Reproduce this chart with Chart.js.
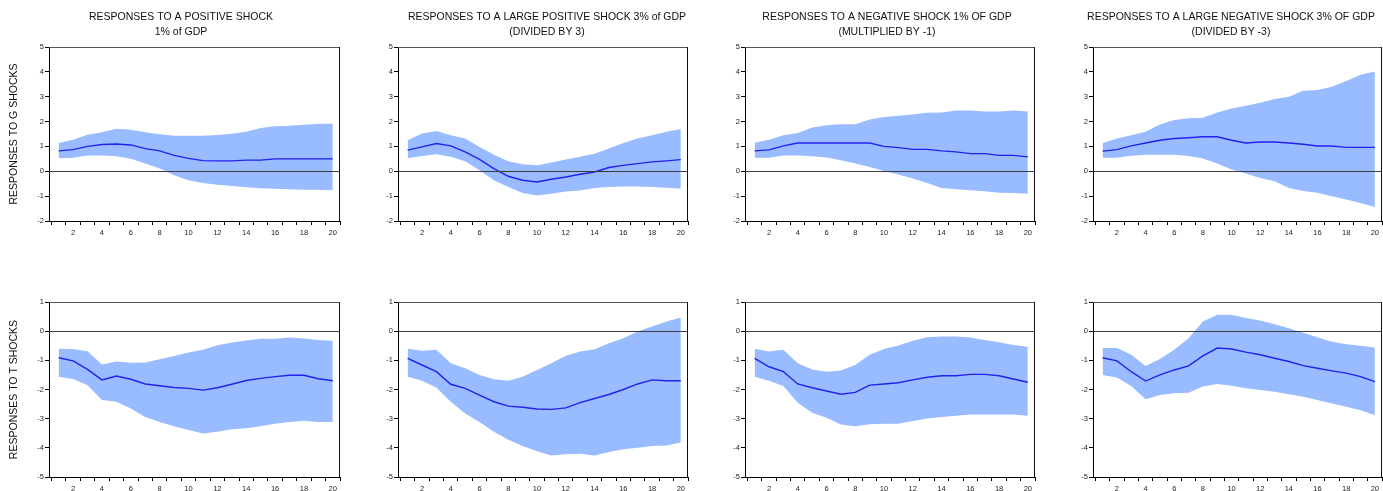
<!DOCTYPE html>
<html>
<head>
<meta charset="utf-8">
<script src="https://cdn.jsdelivr.net/npm/chart.js@4"></script>
<style>
  body { margin: 0; background: #fff; }
  #wrap { position: relative; width: 1383px; height: 491px; overflow: hidden; }
  #wrap canvas { position: absolute; }
</style>
</head>
<body>
<div id="wrap"></div>
<script>
const periods = [1, 2, 3, 4, 5, 6, 7, 8, 9, 10, 11, 12, 13, 14, 15, 16, 17, 18, 19, 20];
const xTickLabels = [2, 4, 6, 8, 10, 12, 14, 16, 18, 20];
const xTickMarks = [0.5, 1.5, 2.5, 3.5, 4.5, 5.5, 6.5, 7.5, 8.5, 9.5, 10.5, 11.5, 12.5, 13.5, 14.5, 15.5, 16.5, 17.5, 18.5, 19.5, 20.5];
const yTicksG = [-2, -1, 0, 1, 2, 3, 4, 5];
const yTicksT = [-5, -4, -3, -2, -1, 0, 1];

const colTitles = [
  ['RESPONSES TO A POSITIVE SHOCK', '1% of GDP'],
  ['RESPONSES TO A LARGE POSITIVE SHOCK 3% of GDP', '(DIVIDED BY 3)'],
  ['RESPONSES TO A NEGATIVE SHOCK 1% OF GDP', '(MULTIPLIED BY -1)'],
  ['RESPONSES TO A LARGE NEGATIVE SHOCK 3% OF GDP', '(DIVIDED BY -3)']
];
const rowTitles = ['RESPONSES TO G SHOCKS', 'RESPONSES TO T SHOCKS'];

// responses to G shocks
const gPosMid = [0.82, 0.87, 1.0, 1.08, 1.1, 1.06, 0.91, 0.82, 0.64, 0.52, 0.43, 0.42, 0.42, 0.45, 0.45, 0.5, 0.5, 0.5, 0.5, 0.5];
const gPosHi = [1.14, 1.27, 1.47, 1.57, 1.71, 1.67, 1.57, 1.49, 1.43, 1.43, 1.43, 1.46, 1.51, 1.59, 1.74, 1.81, 1.83, 1.87, 1.91, 1.91];
const gPosLo = [0.52, 0.54, 0.64, 0.64, 0.6, 0.5, 0.31, 0.11, -0.16, -0.36, -0.47, -0.54, -0.59, -0.64, -0.68, -0.7, -0.72, -0.74, -0.74, -0.76];

const gBigPosMid = [0.85, 0.98, 1.12, 1.02, 0.78, 0.48, 0.11, -0.2, -0.36, -0.43, -0.32, -0.23, -0.12, -0.03, 0.15, 0.24, 0.31, 0.38, 0.42, 0.47];
const gBigPosHi = [1.25, 1.52, 1.62, 1.45, 1.32, 0.98, 0.67, 0.4, 0.28, 0.24, 0.35, 0.47, 0.58, 0.71, 0.92, 1.14, 1.32, 1.45, 1.59, 1.7];
const gBigPosLo = [0.52, 0.61, 0.69, 0.58, 0.4, 0.04, -0.36, -0.63, -0.87, -0.97, -0.9, -0.81, -0.77, -0.67, -0.63, -0.61, -0.61, -0.63, -0.66, -0.7];

const gNegMid = [0.82, 0.86, 1.02, 1.14, 1.14, 1.14, 1.14, 1.14, 1.14, 1.0, 0.95, 0.88, 0.88, 0.82, 0.78, 0.71, 0.71, 0.64, 0.64, 0.58];
const gNegHi = [1.15, 1.27, 1.45, 1.54, 1.76, 1.85, 1.89, 1.89, 2.08, 2.18, 2.23, 2.28, 2.35, 2.36, 2.45, 2.45, 2.41, 2.41, 2.45, 2.41];
const gNegLo = [0.54, 0.54, 0.64, 0.64, 0.6, 0.55, 0.44, 0.31, 0.17, 0.01, -0.13, -0.29, -0.47, -0.67, -0.72, -0.76, -0.8, -0.86, -0.87, -0.9];

const gBigNegMid = [0.81, 0.87, 1.02, 1.14, 1.25, 1.32, 1.35, 1.39, 1.39, 1.25, 1.14, 1.18, 1.18, 1.14, 1.09, 1.02, 1.02, 0.96, 0.96, 0.96];
const gBigNegHi = [1.14, 1.32, 1.45, 1.59, 1.88, 2.06, 2.13, 2.15, 2.36, 2.53, 2.64, 2.76, 2.91, 3.0, 3.24, 3.27, 3.4, 3.63, 3.88, 4.01];
const gBigNegLo = [0.54, 0.54, 0.63, 0.67, 0.67, 0.67, 0.61, 0.51, 0.31, 0.07, -0.09, -0.27, -0.4, -0.67, -0.79, -0.86, -1.0, -1.14, -1.28, -1.44];

// responses to T shocks
const tPosMid = [-0.91, -1.02, -1.31, -1.67, -1.54, -1.65, -1.81, -1.87, -1.93, -1.96, -2.02, -1.94, -1.82, -1.69, -1.62, -1.56, -1.51, -1.51, -1.63, -1.7];
const tPosHi = [-0.6, -0.61, -0.69, -1.14, -1.04, -1.08, -1.07, -0.96, -0.85, -0.73, -0.64, -0.48, -0.39, -0.32, -0.26, -0.26, -0.22, -0.25, -0.3, -0.33];
const tPosLo = [-1.56, -1.64, -1.85, -2.36, -2.42, -2.65, -2.94, -3.11, -3.26, -3.39, -3.51, -3.45, -3.36, -3.33, -3.26, -3.17, -3.11, -3.07, -3.11, -3.11];

const tBigPosMid = [-0.93, -1.16, -1.39, -1.82, -1.96, -2.19, -2.42, -2.57, -2.61, -2.67, -2.68, -2.63, -2.45, -2.31, -2.17, -2.0, -1.81, -1.67, -1.7, -1.7];
const tBigPosHi = [-0.6, -0.67, -0.64, -1.1, -1.27, -1.5, -1.65, -1.7, -1.56, -1.33, -1.1, -0.84, -0.7, -0.62, -0.41, -0.24, -0.01, 0.16, 0.33, 0.47];
const tBigPosLo = [-1.56, -1.7, -1.93, -2.42, -2.82, -3.11, -3.45, -3.72, -3.94, -4.12, -4.26, -4.22, -4.2, -4.26, -4.14, -4.05, -4.0, -3.94, -3.92, -3.82];

const tNegMid = [-0.93, -1.22, -1.39, -1.81, -1.94, -2.05, -2.16, -2.1, -1.85, -1.81, -1.77, -1.67, -1.58, -1.53, -1.53, -1.48, -1.48, -1.53, -1.64, -1.75];
const tNegHi = [-0.6, -0.7, -0.64, -1.1, -1.31, -1.39, -1.35, -1.16, -0.81, -0.61, -0.49, -0.33, -0.21, -0.18, -0.18, -0.22, -0.3, -0.38, -0.47, -0.53];
const tNegLo = [-1.56, -1.7, -1.88, -2.45, -2.8, -2.97, -3.2, -3.26, -3.19, -3.17, -3.17, -3.08, -2.99, -2.94, -2.9, -2.86, -2.86, -2.86, -2.86, -2.9];

const tBigNegMid = [-0.91, -1.02, -1.39, -1.71, -1.5, -1.33, -1.19, -0.85, -0.58, -0.61, -0.72, -0.81, -0.93, -1.04, -1.18, -1.27, -1.36, -1.44, -1.56, -1.73];
const tBigNegHi = [-0.58, -0.58, -0.81, -1.19, -0.95, -0.64, -0.24, 0.33, 0.56, 0.56, 0.45, 0.37, 0.24, 0.1, -0.05, -0.21, -0.36, -0.45, -0.5, -0.56];
const tBigNegLo = [-1.5, -1.59, -1.88, -2.33, -2.19, -2.13, -2.11, -1.9, -1.81, -1.87, -1.96, -2.02, -2.08, -2.16, -2.25, -2.36, -2.48, -2.59, -2.71, -2.88];

const panels = [
  [gPosMid, gPosHi, gPosLo], [gBigPosMid, gBigPosHi, gBigPosLo],
  [gNegMid, gNegHi, gNegLo], [gBigNegMid, gBigNegHi, gBigNegLo],
  [tPosMid, tPosHi, tPosLo], [tBigPosMid, tBigPosHi, tBigPosLo],
  [tNegMid, tNegHi, tNegLo], [tBigNegMid, tBigNegHi, tBigNegLo]
];

// page layout (pixels)
const plotLeft = [49, 398, 745, 1093];
const plotRight = [340, 688, 1035, 1382];
const titleCenter = [181, 547, 887, 1231];
const yAxisW = 49;

const FONT = "'Liberation Sans', Arial, sans-serif";
const BAND = '#99bbff';
const LINE = '#2222ee';

// zero line on top of the band, plus top/right edges of the box
const framePlugin = {
  id: 'frame',
  afterDatasetsDraw(chart) {
    const { ctx, chartArea: a, scales: { y } } = chart;
    ctx.save();
    ctx.lineWidth = 1;
    const z = Math.round(y.getPixelForValue(0)) + 0.5;
    ctx.strokeStyle = '#3c3c3c';
    ctx.beginPath(); ctx.moveTo(a.left, z); ctx.lineTo(a.right, z); ctx.stroke();
    ctx.strokeStyle = '#555';
    ctx.beginPath(); ctx.moveTo(a.left, a.top + 0.5); ctx.lineTo(a.right, a.top + 0.5); ctx.stroke();
    ctx.strokeStyle = '#111';
    ctx.beginPath(); ctx.moveTo(a.right - 0.5, a.top); ctx.lineTo(a.right - 0.5, a.bottom); ctx.stroke();
    ctx.restore();
  }
};

const pts = arr => periods.map((p, i) => ({ x: p, y: arr[i] }));
const wrap = document.getElementById('wrap');

panels.forEach((series, idx) => {
  const row = Math.floor(idx / 4);
  const col = idx % 4;
  const [mid, hi, lo] = series;
  const yTicks = row === 0 ? yTicksG : yTicksT;

  // canvas is centred on the title so the title box can span it fully
  const left = plotLeft[col] - yAxisW;
  const width = 2 * (titleCenter[col] - left);
  const rightGap = left + width - plotRight[col];
  const top = row === 0 ? 0 : 245;
  const height = row === 0 ? 245 : 246;

  const canvas = document.createElement('canvas');
  canvas.width = width;
  canvas.height = height;
  canvas.style.left = left + 'px';
  canvas.style.top = top + 'px';
  wrap.appendChild(canvas);

  new Chart(canvas, {
    type: 'line',
    data: {
      datasets: [
        { data: pts(mid), borderColor: LINE, borderWidth: 1.4, pointRadius: 0, fill: false },
        { data: pts(hi), borderWidth: 0, pointRadius: 0, backgroundColor: BAND, fill: '+1' },
        { data: pts(lo), borderWidth: 0, pointRadius: 0, fill: false }
      ]
    },
    options: {
      responsive: false,
      animation: false,
      devicePixelRatio: 1,
      layout: {
        padding: { top: row === 0 ? 0 : 57, right: 0, bottom: 0, left: 0 }
      },
      plugins: {
        legend: { display: false },
        tooltip: { enabled: false },
        title: {
          display: row === 0,
          text: colTitles[col],
          color: '#111',
          font: { family: FONT, size: 10.5, weight: 'normal', lineHeight: '15px' },
          padding: { top: 10, bottom: 7 }
        }
      },
      scales: {
        x: {
          type: 'linear',
          min: 0.33,
          max: 20.5,
          afterBuildTicks: axis => {
            axis.ticks = xTickMarks.concat(xTickLabels).sort((a, b) => a - b).map(v => ({ value: v }));
          },
          afterFit: axis => { axis.height = row === 0 ? 24 : 14; },
          ticks: {
            autoSkip: false,
            maxRotation: 0,
            padding: 3,
            color: '#222',
            font: { family: FONT, size: 7.5 },
            callback: v => xTickLabels.includes(v) ? String(v) : ''
          },
          grid: {
            drawOnChartArea: false,
            tickLength: 4,
            tickColor: ctx => Number.isInteger(ctx.tick.value) ? 'rgba(0,0,0,0)' : '#000'
          },
          border: { display: true, color: '#000', width: 1 }
        },
        y: {
          type: 'linear',
          min: Math.min(...yTicks),
          max: Math.max(...yTicks),
          afterBuildTicks: axis => { axis.ticks = yTicks.map(v => ({ value: v })); },
          afterFit: axis => { axis.width = yAxisW; },
          title: {
            display: col === 0,
            text: rowTitles[row],
            color: '#111',
            font: { family: FONT, size: 10.5 },
            padding: { top: 8, bottom: 0 }
          },
          ticks: {
            padding: 1,
            color: '#222',
            font: { family: FONT, size: 7.5 }
          },
          grid: { drawOnChartArea: false, tickLength: 4, tickColor: '#000' },
          border: { display: true, color: '#000', width: 1 }
        },
        // empty right-hand spacer so the plot ends where the reference box ends
        yGap: {
          type: 'linear',
          position: 'right',
          afterFit: axis => { axis.width = rightGap; },
          ticks: { display: false },
          grid: { display: false },
          border: { display: false }
        }
      }
    },
    plugins: [framePlugin]
  });
});
</script>
</body>
</html>
